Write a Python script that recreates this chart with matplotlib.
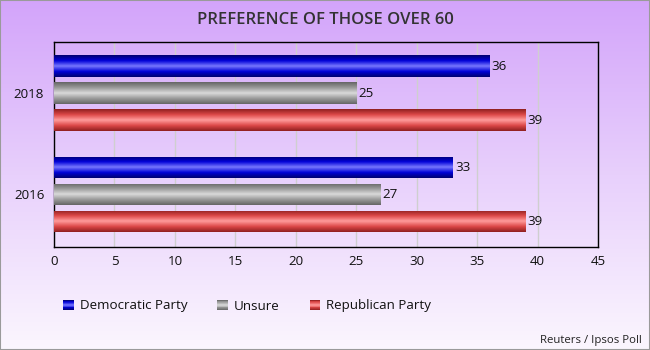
import matplotlib.pyplot as plt
import numpy as np
from matplotlib.colors import LinearSegmentedColormap
from matplotlib.legend_handler import HandlerBase
from matplotlib.patches import Rectangle

plt.rcParams['font.family'] = ['Open Sans', 'DejaVu Sans']

# data
years = ['2018', '2016']
series = ['Democratic Party', 'Unsure', 'Republican Party']
dem = [36, 33]
unsure = [25, 27]
rep = [39, 39]
xticks = [0, 5, 10, 15, 20, 25, 30, 35, 40, 45]

# glossy colour ramps: edge -> base -> highlight -> base -> edge
ramps = {
    'Democratic Party': ['#000070', '#0000d8', '#7878ff', '#0000d8', '#000070'],
    'Unsure': ['#666666', '#9a9a9a', '#dadada', '#9a9a9a', '#666666'],
    'Republican Party': ['#902020', '#dd4848', '#ff9c9c', '#dd4848', '#902020'],
}
cmaps = {k: LinearSegmentedColormap.from_list(k, v) for k, v in ramps.items()}


class GradHandler(HandlerBase):
    def __init__(self, cmap):
        super().__init__()
        self.cmap = cmap

    def create_artists(self, legend, orig_handle, xdescent, ydescent, width, height,
                       fontsize, trans):
        n = 12
        arts = []
        for k in range(n):
            arts.append(Rectangle((-xdescent, -ydescent + height * k / n), width,
                                  height / n, facecolor=self.cmap((k + 0.5) / n),
                                  edgecolor='none', transform=trans))
        return arts


fig = plt.figure(figsize=(6.5, 3.5), dpi=100)

# background gradient for the whole picture
bg = fig.add_axes([0, 0, 1, 1], zorder=-10)
bgmap = LinearSegmentedColormap.from_list('bg', ['#d3a4fa', '#e8d0fc', '#fbf6fe'])
bg.imshow(np.linspace(0, 1, 256).reshape(-1, 1), cmap=bgmap, aspect='auto',
          extent=[0, 1, 0, 1])
bg.set_axis_off()
fig.patches.append(Rectangle((0, 0), 1, 1, transform=fig.transFigure, fill=False,
                             edgecolor='#9a9a9a', linewidth=1.5))

ax = fig.add_axes([54 / 650, 1 - 247 / 350, 544 / 650, 205 / 350])
ax.set_facecolor('none')

pos = np.arange(len(years))
step = 0.267
h = 0.213
grad = np.linspace(0, 1, 64).reshape(-1, 1)
for i, (name, vals) in enumerate(zip(series, [dem, unsure, rep])):
    bars = ax.barh(pos + (i - 1) * step, vals, height=h, color='none', zorder=3)
    for b in bars:
        x0, y0, w, hh = b.get_x(), b.get_y(), b.get_width(), b.get_height()
        im = ax.imshow(grad, cmap=cmaps[name], aspect='auto', zorder=3,
                       extent=[x0, x0 + w, y0 + hh, y0], interpolation='bilinear')
        im.set_clip_path(b)
    ax.bar_label(bars, padding=1.5, fontsize=9.6, color='#111111')

ax.set_xlim(0, 45)
ax.set_ylim(1.52, -0.505)
ax.set_xticks(xticks)
ax.set_yticks(pos)
ax.set_yticklabels(years)
ax.tick_params(length=0, labelsize=9.6, colors='#111111', pad=7)
ax.tick_params(axis='x', pad=6)
ax.xaxis.grid(True, color='#cfcfcf', linewidth=1, zorder=0)
ax.set_axisbelow(True)
for s in ax.spines.values():
    s.set_linewidth(1)
    s.set_color('black')

fig.text(0.5, 1 - 20 / 350, 'PREFERENCE OF THOSE OVER 60', ha='center', va='center',
         fontsize=12, fontweight='semibold', color='#333333')
fig.text(642 / 650, 1 - 340 / 350, 'Reuters / Ipsos Poll', ha='right', va='center',
         fontsize=8.2, color='#222222')

handles = [Rectangle((0, 0), 1, 1) for _ in series]
fig.legend(handles, series, loc='center left', bbox_to_anchor=(63 / 650, 1 - 306 / 350),
           ncol=3, frameon=False, fontsize=9.6, borderpad=0, borderaxespad=0,
           handlelength=0.8, handleheight=0.8, handletextpad=0.45, columnspacing=2.25,
           handler_map={hd: GradHandler(cmaps[s]) for hd, s in zip(handles, series)},
           labelcolor='#111111')

fig.savefig('out.png', dpi=100)
